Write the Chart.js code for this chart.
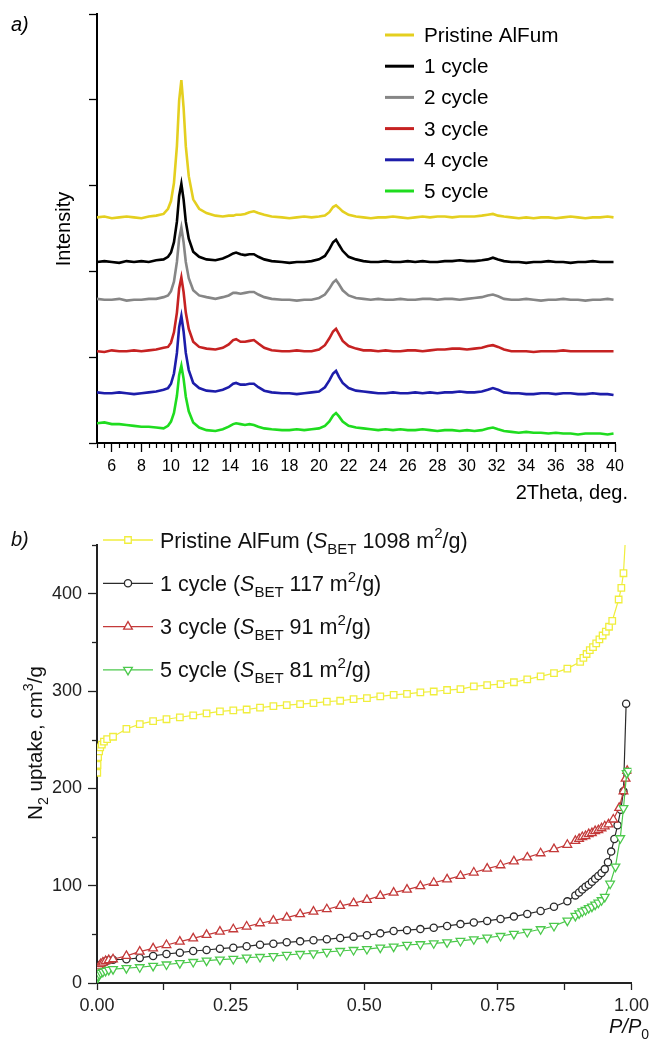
<!DOCTYPE html>
<html>
<head>
<meta charset="utf-8">
<script src="https://cdn.jsdelivr.net/npm/chart.js@4.4.0/dist/chart.umd.min.js"></script>
<style>
  html, body { margin: 0; padding: 0; background: #fff; }
  #wrap { position: relative; width: 654px; height: 1045px; }
  canvas { position: absolute; left: 0; }
  #xrd { top: 0; }
  #bet { top: 505px; }
</style>
</head>
<body>
<div id="wrap">
  <canvas id="xrd" width="654" height="505"></canvas>
  <canvas id="bet" width="654" height="540"></canvas>
</div>
<script>
const FONT = '"Liberation Sans", Arial, sans-serif';

// ---- panel a) XRD patterns (stacked, offset for clarity) ----
const xrdLabels = ['Pristine AlFum', '1 cycle', '2 cycle', '3 cycle', '4 cycle', '5 cycle'];
const xrdColors = ['#e4cf1f', '#000000', '#868686', '#c62222', '#1d1daa', '#1fdc1f'];
const xrdOffsets = [263, 211, 167, 107, 58, 16];

const twoTheta = [5, 5.5, 6, 6.5, 7, 7.5, 8, 8.5, 9, 9.5,
  9.8, 10.0, 10.2, 10.4, 10.55, 10.7, 10.85, 11.0, 11.2, 11.5, 11.9, 12.4,
  13, 13.5, 13.9, 14.2, 14.4, 14.7, 15.0, 15.3, 15.6, 15.9, 16.3, 16.8,
  17.5, 18, 18.5, 19, 19.5, 20, 20.4, 20.7, 20.95, 21.15, 21.35, 21.6, 22,
  22.5, 23, 23.5, 24, 24.5, 25, 25.5, 26, 26.5, 27, 27.5, 28, 28.5, 29, 29.5, 30, 30.5,
  31, 31.4, 31.75, 32.1, 32.5,
  33, 33.5, 34, 34.5, 35, 35.5, 36, 36.5, 37, 37.5, 38, 38.5, 39, 39.5, 39.9];

const xrdPristine = [0, 1, -1, 0, 1, 0, -1, 1, 2, 4,
  10, 19, 40, 83, 136, 160, 128, 83, 48, 21, 10, 5,
  2, 1, 2, 2, 3, 3, 4, 6, 7, 5, 3, 1,
  0, -1, 0, 1, 0, 1, 2, 6, 12, 14, 11, 7, 3,
  1, 0, -1, 0, 0, 1, 0, -1, 0, 1, 0, 1, 1, 0, 1, 1, 1,
  2, 3, 4, 2, 1,
  0, -1, 0, -1, 0, 0, -1, 0, 1, 0, -1, 0, 0, 1, 0];
const xrdCycle1 = [0, 1, 0, -1, 1, 0, 1, 0, 2, 3,
  6, 11, 23, 47, 77, 91, 73, 47, 27, 12, 6, 3,
  2, 4, 7, 10, 11, 9, 8, 9, 9, 6, 3, 1,
  0, -1, 0, 0, 1, 3, 7, 15, 23, 26, 20, 13, 6,
  3, 1, 0, 0, 1, 0, 0, 1, 0, 1, 0, 0, 1, 1, 2, 1, 1,
  2, 3, 5, 3, 1,
  0, 0, -1, 0, 0, 1, 0, 0, -1, 0, 0, 1, 0, 0, 0];
const xrdCycle2 = [1, 0, 0, 1, -1, 0, 0, 1, 1, 3,
  5, 10, 21, 44, 71, 84, 67, 44, 25, 11, 5, 3,
  1, 3, 5, 8, 8, 7, 8, 9, 9, 6, 3, 1,
  0, 0, -1, 0, 0, 2, 6, 13, 20, 23, 18, 11, 5,
  2, 1, 0, 1, 0, 0, 1, 0, 0, 1, 1, 0, 1, 1, 0, 1, 2,
  3, 5, 6, 4, 1,
  0, 0, 1, 0, -1, 0, 0, 1, 0, 0, -1, 0, 0, 1, 0];
const xrdCycle3 = [0, -1, 1, 0, 0, 1, 0, 1, 2, 4,
  5, 10, 22, 45, 73, 86, 69, 45, 26, 11, 5, 3,
  2, 4, 8, 13, 14, 11, 11, 12, 13, 9, 4, 1,
  0, 0, 1, 0, 0, 2, 7, 15, 23, 26, 20, 12, 6,
  3, 1, 1, 0, 1, 0, 0, 1, 1, 0, 1, 2, 2, 3, 3, 2, 3,
  4, 6, 7, 5, 2,
  0, 0, 0, -1, 0, 0, 0, 1, 0, 0, 0, 0, 0, 0, 0];
const xrdCycle4 = [1, 0, 0, 1, 0, -1, 0, 1, 2, 4,
  6, 11, 23, 47, 77, 90, 72, 47, 27, 12, 6, 3,
  2, 4, 7, 11, 12, 10, 10, 11, 11, 7, 3, 1,
  0, 0, -1, 0, 1, 2, 7, 15, 23, 26, 19, 12, 6,
  3, 2, 1, 0, 0, 1, 0, 0, 1, 0, 1, 0, 1, 1, 2, 1, 1,
  2, 4, 6, 4, 1,
  0, 0, -1, -1, 0, 0, -1, 0, 0, -1, -1, 0, -1, -1, -2];
const xrdCycle5 = [7, 8, 6, 6, 5, 4, 3, 3, 2, 1,
  4, 9, 19, 39, 63, 74, 59, 38, 21, 8, 2, -1,
  -2, 0, 3, 6, 7, 6, 5, 6, 5, 3, 1, 0,
  -1, -1, 0, -1, 0, 1, 4, 9, 16, 19, 15, 9, 4,
  2, 1, 0, -1, 0, -1, 0, -1, -1, 0, -1, -2, -1, -1, -2, -1, -2,
  -1, 1, 2, 0, -2,
  -3, -4, -3, -4, -4, -5, -4, -5, -5, -6, -5, -5, -5, -6, -5];
const xrdSeries = [xrdPristine, xrdCycle1, xrdCycle2, xrdCycle3, xrdCycle4, xrdCycle5];

// ---- panel b) N2 isotherms ----
const betLabels = ['Pristine AlFum', '1 cycle', '3 cycle', '5 cycle'];
const betSurface = [1098, 117, 91, 81];
const betColors = ['#f0ee3c', '#2b2b2b', '#c43a3a', '#4cc94c'];
const betOrder = [0, 3, 2, 1];

const gridP = [0.03, 0.055, 0.08, 0.105, 0.13, 0.155, 0.18, 0.205, 0.23, 0.255, 0.28, 0.305,
  0.33, 0.355, 0.38, 0.405, 0.43, 0.455, 0.48, 0.505, 0.53, 0.555, 0.58, 0.605, 0.63, 0.655,
  0.68, 0.705, 0.73, 0.755, 0.78, 0.805, 0.83, 0.855, 0.88];

const pristineP = [0.0005, 0.001, 0.002, 0.004, 0.006, 0.009, 0.013, 0.019, ...gridP,
  0.904, 0.91, 0.916, 0.922, 0.928, 0.934, 0.94, 0.946, 0.952, 0.958, 0.964, 0.976, 0.981, 0.985, 0.989];
const pristineV = [216, 224, 232, 238, 242, 245, 248, 250.5,
  253, 261, 266, 269, 271, 273, 275, 277, 279, 280, 281, 283, 284.5, 285.5, 286.6, 287.6, 289, 290,
  291.7, 292.7, 294.4, 296, 297, 298.5, 299.5, 301, 302, 304.7, 306, 307, 309, 312, 315, 318.4, 323,
  330, 334, 338, 342, 345, 349, 353, 357, 361, 366, 372, 394, 406, 421, 460];

const cycle1P = [0.001, 0.003, 0.006, 0.01, 0.015, 0.02, ...gridP,
  0.895, 0.902, 0.908, 0.914, 0.92, 0.926, 0.932, 0.938, 0.944, 0.95, 0.956, 0.962, 0.968, 0.974, 0.98, 0.985, 0.99];
const cycle1V = [13, 16, 18.5, 20.5, 22, 23,
  24, 24.4, 25.8, 27.8, 29.8, 31.2, 32.9, 33.9, 35.3, 36.3, 37.7, 39.4, 40.4, 41.8, 42.8, 43.9, 44.9,
  46.3, 47.6, 49, 51, 53.5, 54.3, 55.4, 56.8, 58.6, 60.5, 62.1, 63.8, 65.8, 68.2, 71, 74, 78.3, 83.9,
  90, 93, 96, 99, 101, 104, 107, 110, 113, 117, 124, 135, 148, 162, 178, 197, 287];

const cycle3P = [0.001, 0.002, 0.004, 0.007, 0.011, 0.016, 0.022, ...gridP,
  0.895, 0.902, 0.908, 0.914, 0.92, 0.926, 0.932, 0.938, 0.944, 0.95, 0.957, 0.966, 0.977, 0.985, 0.989, 0.992];
const cycle3V = [11, 14, 17, 19.5, 21, 22.5, 23.5,
  24.4, 27.8, 32.2, 35.6, 39, 42.5, 45.9, 49.4, 52.8, 55.2, 58, 61.4, 64.1, 67.2, 70.7, 73.4, 75.8,
  79.2, 82, 85.4, 89.5, 92.9, 96, 99.5, 103, 106.5, 110, 113.5, 117.5, 121, 125, 129, 133.3, 137.5, 142,
  146, 148, 150, 151, 153, 154, 156, 157, 159, 161, 163, 168, 180, 197, 210, 218];

const cycle5P = [0.001, 0.002, 0.004, 0.007, 0.011, 0.016, 0.022, ...gridP,
  0.895, 0.902, 0.908, 0.914, 0.92, 0.926, 0.932, 0.938, 0.944, 0.95, 0.96, 0.97, 0.979, 0.985, 0.991, 0.994];
const cycle5V = [5, 7, 9, 10.5, 11.5, 12.5, 13.5,
  14.2, 15.3, 16.2, 17.6, 19, 20.4, 21.6, 23, 24, 24.7, 26, 26.7, 27.7, 28.8, 29.8, 30.5, 31.9,
  32.9, 33.9, 34.9, 36.3, 37.4, 39.1, 39.8, 40.8, 41.8, 43.2, 44.9, 46.6, 48.3, 50.4, 52.4, 55.2, 58.6, 64.1,
  69, 71.5, 73.5, 75, 77, 78.5, 80.5, 82.5, 85, 88.5, 102, 119.5, 148.7, 179.6, 215.6, 218];

const betP = [pristineP, cycle1P, cycle3P, cycle5P];
const betV = [pristineV, cycle1V, cycle3V, cycle5V];
const betMarkers = [
  { style: 'rect', radius: 4.6, rotation: 0 },
  { style: 'circle', radius: 3.6, rotation: 0 },
  { style: 'triangle', radius: 5, rotation: 0 },
  { style: 'triangle', radius: 5, rotation: 180 }
];

// ---- helpers ----
function richWidth(ctx, parts, size) {
  let w = 0;
  parts.forEach(([t, st]) => {
    const fs = (st === 'sub' || st === 'sup') ? size * 0.7 : size;
    ctx.font = (st === 'i' ? 'italic ' : '') + fs + 'px ' + FONT;
    w += ctx.measureText(t).width;
  });
  return w;
}

function drawRich(ctx, parts, x, y, size) {
  let cx = x;
  parts.forEach(([t, st]) => {
    let fs = size, dy = 0;
    if (st === 'sub') { fs = size * 0.7; dy = size * 0.28; }
    if (st === 'sup') { fs = size * 0.7; dy = -size * 0.42; }
    ctx.font = (st === 'i' ? 'italic ' : '') + fs + 'px ' + FONT;
    ctx.fillText(t, cx, y + dy);
    cx += ctx.measureText(t).width;
  });
  return cx - x;
}

// short ticks between the labelled ones
const minorTicks = {
  id: 'minorTicks',
  afterDraw(chart, args, opts) {
    const ctx = chart.ctx;
    ctx.save();
    ctx.strokeStyle = opts.color;
    ctx.lineWidth = opts.width;
    const sx = chart.scales.x, sy = chart.scales.y;
    (opts.x || []).forEach(v => {
      const px = Math.round(sx.getPixelForValue(v)) + 0.5;
      ctx.beginPath(); ctx.moveTo(px, sx.top); ctx.lineTo(px, sx.top + opts.len); ctx.stroke();
    });
    (opts.y || []).forEach(v => {
      const py = Math.round(sy.getPixelForValue(v)) + 0.5;
      ctx.beginPath(); ctx.moveTo(sy.right, py); ctx.lineTo(sy.right - opts.len, py); ctx.stroke();
    });
    ctx.restore();
  }
};

const xrdDecor = {
  id: 'xrdDecor',
  afterDraw(chart) {
    const ctx = chart.ctx;
    ctx.save();
    ctx.fillStyle = '#000';
    ctx.textBaseline = 'alphabetic';
    ctx.font = 'italic 20px ' + FONT;
    ctx.fillText('a)', 11, 31);
    ctx.font = '20px ' + FONT;
    ctx.textAlign = 'right';
    ctx.fillText('2Theta, deg.', 628, 499);
    ctx.save();
    ctx.translate(70, 229);
    ctx.rotate(-Math.PI / 2);
    ctx.textAlign = 'center';
    ctx.fillText('Intensity', 0, 0);
    ctx.restore();
    ctx.textAlign = 'left';
    ctx.font = '20.7px ' + FONT;
    chart.data.datasets.forEach((ds, i) => {
      const y = 35 + i * 31.2;
      ctx.strokeStyle = ds.borderColor;
      ctx.lineWidth = 3;
      ctx.beginPath(); ctx.moveTo(385, y); ctx.lineTo(414, y); ctx.stroke();
      ctx.fillText(ds.label, 424, y + 7);
    });
    ctx.restore();
  }
};

const betDecor = {
  id: 'betDecor',
  afterDraw(chart) {
    const ctx = chart.ctx;
    ctx.save();
    ctx.fillStyle = '#111';
    ctx.textBaseline = 'alphabetic';
    ctx.font = 'italic 20px ' + FONT;
    ctx.fillText('b)', 11, 41);
    // y title
    const yTitle = [['N', ''], ['2', 'sub'], [' uptake, cm', ''], ['3', 'sup'], ['/g', '']];
    const w = richWidth(ctx, yTitle, 20.5);
    ctx.save();
    ctx.translate(42, 238);
    ctx.rotate(-Math.PI / 2);
    drawRich(ctx, yTitle, -w / 2, 0, 20.5);
    ctx.restore();
    // x title
    drawRich(ctx, [['P/P', 'i'], ['0', 'sub']], 609, 528, 20);
    // legend
    chart.data.datasets.forEach((ds, i) => {
      const mid = 35 + i * 43.3;
      ctx.strokeStyle = ds.borderColor;
      ctx.lineWidth = 1.3;
      ctx.beginPath(); ctx.moveTo(103, mid); ctx.lineTo(153, mid); ctx.stroke();
      ctx.fillStyle = '#fff';
      Chart.helpers.drawPoint(ctx, {
        pointStyle: ds.pointStyle, radius: ds.pointRadius,
        rotation: ds.pointRotation, borderWidth: ds.pointBorderWidth
      }, 128, mid);
      ctx.fillStyle = '#111';
      const parts = [[betLabels[i] + ' (', ''], ['S', 'i'], ['BET', 'sub'],
        [' ' + betSurface[i] + ' m', ''], ['2', 'sup'], ['/g)', '']];
      drawRich(ctx, parts, 160, mid + 7.5, 21.5);
    });
    ctx.restore();
  }
};

// ---- chart a) ----
const xrdMinorX = [];
for (let v = 5; v <= 40; v += 0.5) if (v % 2 !== 0) xrdMinorX.push(v);

new Chart(document.getElementById('xrd'), {
  type: 'line',
  data: {
    datasets: xrdSeries.map((s, i) => ({
      label: xrdLabels[i],
      data: twoTheta.map((t, k) => ({ x: t, y: s[k] + xrdOffsets[i] })),
      borderColor: xrdColors[i],
      borderWidth: 2.6,
      pointRadius: 0,
      tension: 0,
      fill: false
    }))
  },
  options: {
    responsive: false,
    animation: false,
    devicePixelRatio: 1,
    layout: { padding: { top: 14, right: 39, left: 0, bottom: 0 } },
    plugins: {
      legend: { display: false },
      tooltip: { enabled: false },
      minorTicks: { x: xrdMinorX, len: 5, color: '#000', width: 1.2 }
    },
    scales: {
      x: {
        type: 'linear', min: 5, max: 40,
        afterFit: s => { s.height = 62; },
        grid: { drawOnChartArea: false, tickLength: 9, tickColor: '#000', tickWidth: 1.3 },
        border: { color: '#000', width: 2 },
        ticks: { stepSize: 2, includeBounds: false, padding: 5, color: '#000',
          font: { family: FONT, size: 16 }, maxRotation: 0, autoSkip: false,
          callback: v => (v % 2 === 0 ? v : '') }
      },
      y: {
        min: 0, max: 500,
        afterFit: s => { s.width = 97; },
        grid: { drawOnChartArea: false, tickLength: 8, tickColor: '#000', tickWidth: 1.3 },
        border: { color: '#000', width: 2 },
        ticks: { stepSize: 100, callback: () => '' }
      }
    }
  },
  plugins: [minorTicks, xrdDecor]
});

// ---- chart b) ----
new Chart(document.getElementById('bet'), {
  type: 'line',
  data: {
    datasets: betV.map((vals, i) => ({
      label: `${betLabels[i]} (SBET ${betSurface[i]} m²/g)`,
      data: betP[i].map((p, k) => ({ x: p, y: vals[k] })),
      order: betOrder[i],
      borderColor: betColors[i],
      borderWidth: 1.2,
      pointStyle: betMarkers[i].style,
      pointRadius: betMarkers[i].radius,
      pointRotation: betMarkers[i].rotation,
      pointBorderColor: betColors[i],
      pointBackgroundColor: '#fff',
      pointBorderWidth: 1.3,
      tension: 0,
      fill: false
    }))
  },
  options: {
    responsive: false,
    animation: false,
    devicePixelRatio: 1,
    layout: { padding: { top: 40, right: 21, left: 0, bottom: 0 } },
    plugins: {
      legend: { display: false },
      tooltip: { enabled: false },
      minorTicks: { y: [50, 150, 250, 350, 450], len: 5, color: '#222', width: 1.3 }
    },
    scales: {
      x: {
        type: 'linear', min: 0, max: 1,
        afterFit: s => { s.height = 62; },
        grid: { drawOnChartArea: false, tickLength: 7, tickColor: '#222', tickWidth: 1.3 },
        border: { color: '#222', width: 2 },
        ticks: { stepSize: 0.125, padding: 5, color: '#222', maxRotation: 0, autoSkip: false,
          font: { family: FONT, size: 18 },
          callback: v => (Math.abs(v * 4 - Math.round(v * 4)) < 1e-6 ? v.toFixed(2) : '') }
      },
      y: {
        min: 0, max: 450,
        afterFit: s => { s.width = 97; },
        grid: { drawOnChartArea: false, tickLength: 9, tickColor: '#222', tickWidth: 1.3 },
        border: { color: '#222', width: 2 },
        ticks: { stepSize: 100, includeBounds: false, padding: 6, color: '#222',
          font: { family: FONT, size: 18 } }
      }
    }
  },
  plugins: [minorTicks, betDecor]
});
</script>
</body>
</html>
